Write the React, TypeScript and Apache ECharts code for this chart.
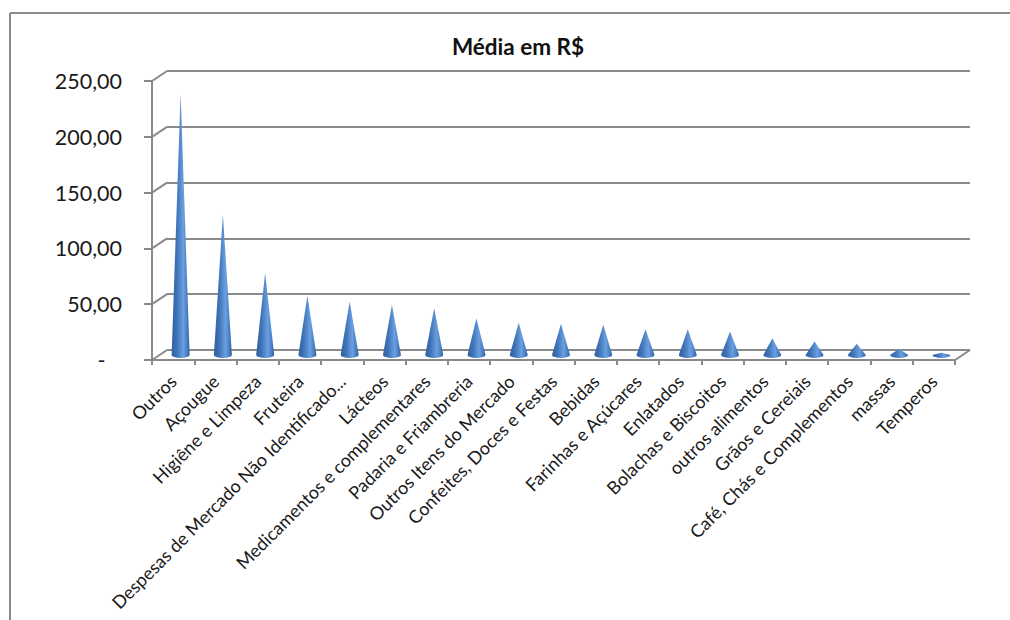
import React, { useEffect, useRef } from "react";
import * as echarts from "echarts";

const categories = [
  "Outros", "Açougue", "Higiêne e Limpeza", "Fruteira",
  "Despesas de Mercado Não Identificado...", "Lácteos",
  "Medicamentos e complementares", "Padaria e Friambreria",
  "Outros Itens do Mercado", "Confeites, Doces e Festas", "Bebidas",
  "Farinhas e Açúcares", "Enlatados", "Bolachas e Biscoitos",
  "outros alimentos", "Grãos e Cereiais", "Café, Chás e Complementos",
  "massas", "Temperos",
];
const averages = [234, 126, 73.5, 53, 48, 45, 42, 33, 29, 28, 27, 23, 23, 21, 15, 12, 10, 5.5, 2];
const yTicks = [0, 50, 100, 150, 200, 250];

const FONT = "Lato, 'Open Sans', sans-serif";
const LINE = "#8a8a8a";
const DEPTH_X = 15;
const DEPTH_Y = -10;

const formatTick = (v: number) =>
  v === 0 ? "-   " : v.toFixed(2).replace(".", ",");

// Cones: horizontal gradient gives the rounded look.
const coneFill = () =>
  new echarts.graphic.LinearGradient(0, 0, 1, 0, [
    { offset: 0, color: "#2f5f9f" },
    { offset: 0.3, color: "#3f74b8" },
    { offset: 0.65, color: "#6a9fe0" },
    { offset: 0.85, color: "#4a80c4" },
    { offset: 1, color: "#2c5c9a" },
  ]);

// One outline per cone: flanks up to the tip, front half of the base ellipse below.
const renderCone = (_: any, api: any) => {
  const base = api.coord([api.value(0), 0]);
  const tip = api.coord([api.value(0), api.value(1)]);
  const r = 9;
  const ry = 3;
  const d =
    `M${base[0] - r} ${base[1]} ` +
    `A${r} ${ry} 0 0 0 ${base[0] + r} ${base[1]} ` +
    `L${tip[0]} ${tip[1]} Z`;
  return {
    type: "path",
    shape: { pathData: d },
    style: { fill: coneFill() },
  };
};

// Short slanted segments joining the front axis to the back wall.
const renderDepthLine = (_: any, api: any) => {
  const half = api.size([1, 0])[0] / 2;
  const p = api.coord([0, api.value(1)]);
  const x = p[0] - half;
  return {
    type: "line",
    shape: { x1: x, y1: p[1], x2: x + DEPTH_X, y2: p[1] + DEPTH_Y },
    style: { stroke: LINE, lineWidth: 2 },
  };
};

const renderFloorEdge = (_: any, api: any) => {
  const p = api.coord([api.value(0), 0]);
  const half = api.size([1, 0])[0] / 2;
  return {
    type: "line",
    shape: { x1: p[0] + half, y1: p[1], x2: p[0] + half + DEPTH_X, y2: p[1] + DEPTH_Y },
    style: { stroke: LINE, lineWidth: 2 },
  };
};

export default function App() {
  const ref = useRef<HTMLDivElement>(null);

  useEffect(() => {
    document.body.style.margin = "0";
    const chart = echarts.init(ref.current!, undefined, { renderer: "svg" });
    const valueAxis = { type: "value", min: 0, max: 250, interval: 50 };
    const hiddenCategory = {
      type: "category",
      data: categories,
      axisLine: { show: false },
      axisTick: { show: false },
      axisLabel: { show: false },
    };
    chart.setOption({
      animation: false,
      backgroundColor: "#ffffff",
      title: {
        text: "Média em R$",
        left: 513,
        top: 30,
        textAlign: "center",
        textStyle: { fontFamily: FONT, fontSize: 22.5, fontWeight: "bold", color: "#111111" },
      },
      graphic: [
        { type: "line", shape: { x1: 10, y1: 13, x2: 1010, y2: 13 }, style: { stroke: LINE, lineWidth: 2 } },
        { type: "line", shape: { x1: 10, y1: 13, x2: 10, y2: 620 }, style: { stroke: LINE, lineWidth: 2 } },
      ],
      // 0: front plane with the axes, 1: back wall, 2: mid depth where the cones stand
      grid: [
        { left: 152, top: 81, width: 803, height: 279 },
        { left: 167, top: 71, width: 803, height: 279 },
        { left: 159.5, top: 76, width: 803, height: 279 },
      ],
      xAxis: [
        {
          type: "category",
          gridIndex: 0,
          data: categories,
          axisLine: { lineStyle: { color: LINE, width: 2 } },
          axisTick: { show: true, length: 5, alignWithLabel: false, lineStyle: { color: LINE, width: 2 } },
          axisLabel: {
            interval: 0,
            rotate: 45,
            margin: 18,
            fontFamily: FONT,
            fontSize: 18,
            color: "#1a1a1a",
          },
        },
        { ...hiddenCategory, gridIndex: 1 },
        { ...hiddenCategory, gridIndex: 2 },
      ],
      yAxis: [
        {
          ...valueAxis,
          gridIndex: 0,
          axisLine: { show: true, lineStyle: { color: LINE, width: 2 } },
          axisTick: { show: true, length: 8, lineStyle: { color: LINE, width: 2 } },
          axisLabel: {
            margin: 30,
            fontFamily: FONT,
            fontSize: 21.5,
            color: "#1a1a1a",
            formatter: formatTick,
          },
          splitLine: { show: false },
        },
        {
          ...valueAxis,
          gridIndex: 1,
          axisLine: { show: false },
          axisTick: { show: false },
          axisLabel: { show: false },
          splitLine: { show: true, lineStyle: { color: LINE, width: 2 } },
        },
        {
          ...valueAxis,
          gridIndex: 2,
          axisLine: { show: false },
          axisTick: { show: false },
          axisLabel: { show: false },
          splitLine: { show: false },
        },
      ],
      series: [
        {
          type: "custom",
          name: "depth",
          xAxisIndex: 0,
          yAxisIndex: 0,
          silent: true,
          clip: false,
          encode: { x: 0, y: 1 },
          data: yTicks.map((t) => [0, t]),
          renderItem: renderDepthLine,
        },
        {
          type: "custom",
          name: "floor edge",
          xAxisIndex: 0,
          yAxisIndex: 0,
          silent: true,
          clip: false,
          encode: { x: 0, y: 1 },
          data: [[categories.length - 1, 0]],
          renderItem: renderFloorEdge,
        },
        {
          type: "custom",
          name: "Média em R$",
          xAxisIndex: 2,
          yAxisIndex: 2,
          clip: false,
          z: 5,
          encode: { x: 0, y: 1 },
          data: averages.map((v, i) => [i, v]),
          renderItem: renderCone,
        },
      ],
    });
    return () => chart.dispose();
  }, []);

  return <div ref={ref} style={{ width: 1010, height: 620 }} />;
}
